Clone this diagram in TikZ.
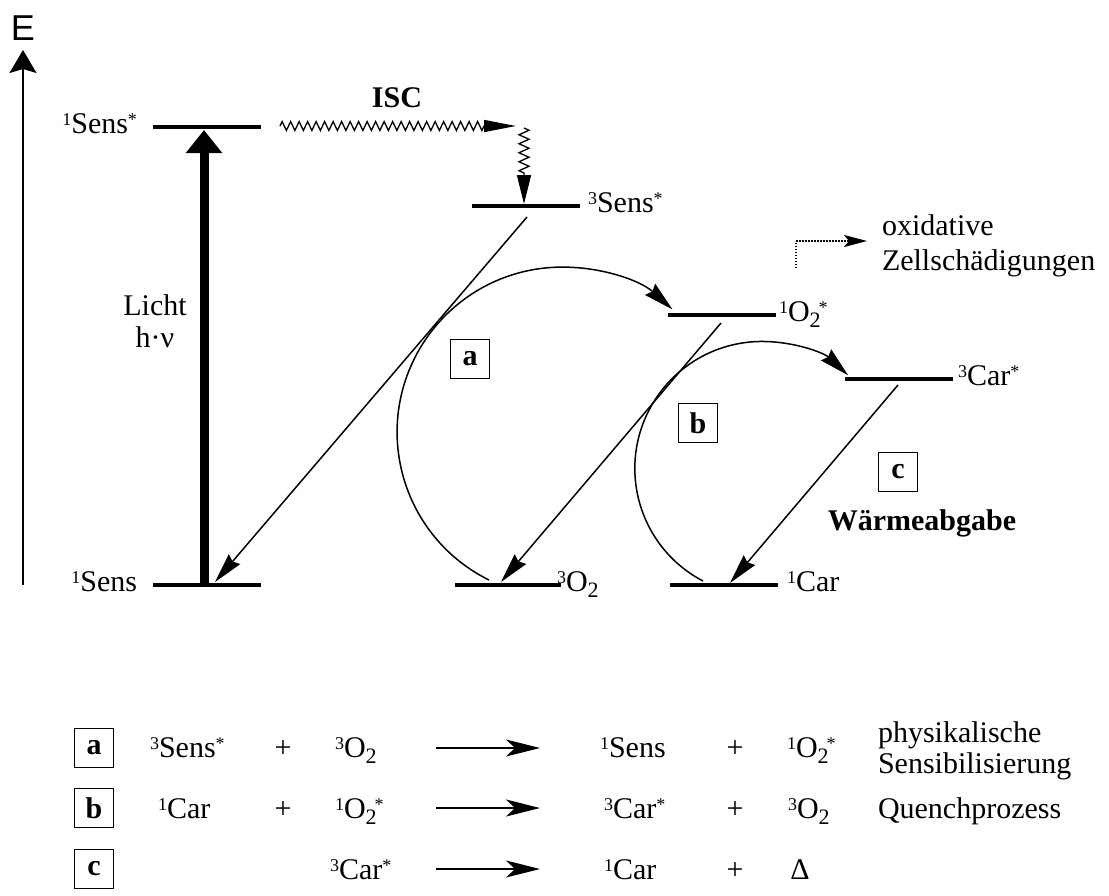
\documentclass[tikz,border=0pt]{standalone}
\usepackage{fontspec}
\setmainfont{Liberation Serif}
\newfontfamily\sansE{Liberation Sans}
\usetikzlibrary{arrows.meta,decorations.pathmorphing}
\newcommand\hsup[1]{\raisebox{8pt}{\fontsize{18}{18}\selectfont #1}}
\newcommand\hsub[1]{\raisebox{-6pt}{\fontsize{22}{22}\selectfont #1}}
\begin{document}
\begin{tikzpicture}[x=1pt,y=-1pt,
  every node/.style={inner sep=0pt, outer sep=0pt},
  tx/.style={font=\fontsize{30}{32}\selectfont},
  bd/.style={font=\fontsize{30}{32}\selectfont\bfseries},
  bx/.style={draw, line width=1.5pt, minimum width=39pt, minimum height=39pt, font=\fontsize{30}{32}\selectfont\bfseries},
  lvl/.style={line width=4pt},
  tr/.style={line width=1.5pt, -{Stealth[length=30pt,width=15pt,inset=3pt]}},
  eqarr/.style={line width=1.5pt, -{Stealth[length=34pt,width=17pt,inset=9pt]}},
  zz/.style={line width=1.3pt, decorate, decoration={zigzag, segment length=8.5pt, amplitude=4.5pt, post length=32pt}},
]
\useasboundingbox (0,0) rectangle (1109,895);

% energy axis
\node[font=\sansE\fontsize{36}{38}\selectfont] (E) at (23,28.5) {E};
\coordinate (axB) at (23,585);
\coordinate (axT) at (23,50);
\draw[line width=1.3pt, -{Stealth[length=23pt,width=27pt,inset=4pt]}] (axB) -- (axT);

% levels
\coordinate (S1sL) at (153,127); \coordinate (S1sR) at (261,127);
\coordinate (S3sL) at (472,206); \coordinate (S3sR) at (580,206);
\coordinate (O1sL) at (668,315); \coordinate (O1sR) at (776,315);
\coordinate (C3sL) at (845,379); \coordinate (C3sR) at (953,379);
\coordinate (S1L) at (153,585); \coordinate (S1R) at (261,585);
\coordinate (O3L) at (455,585); \coordinate (O3R) at (561,585);
\coordinate (C1L) at (670,585); \coordinate (C1R) at (778,585);
\foreach \a/\b in {S1sL/S1sR,S3sL/S3sR,O1sL/O1sR,C3sL/C3sR,S1L/S1R,O3L/O3R,C1L/C1R}
  \draw[lvl] (\a) -- (\b);

% level labels
\node[tx, anchor=base east] (lS1s) at (137,133) {\hsup{1}Sens\hsup{*}};
\node[tx, anchor=base west] (lS3s) at (588,212) {\hsup{3}Sens\hsup{*}};
\node[tx, anchor=base west] (lO1s) at (779,321) {\hsup{1}O\hsub{2}\kern-2pt\hsup{*}};
\node[tx, anchor=base west] (lC3s) at (958,385) {\hsup{3}Car\hsup{*}};
\node[tx, anchor=base east] (lS1) at (137,591) {\hsup{1}Sens};
\node[tx, anchor=base west] (lO3) at (557,591) {\hsup{3}O\hsub{2}};
\node[tx, anchor=base west] (lC1) at (787,591) {\hsup{1}Car};

% light absorption
\coordinate (hvB) at (204,585);
\coordinate (hvT) at (204,130);
\draw[line width=9pt, -{Triangle[length=23pt,width=35pt]}] (hvB) -- (hvT);
\node[tx, anchor=base] (licht) at (155,315) {Licht};
\node[tx, anchor=base] (hnu) at (155,347) {h·ν};

% ISC
\coordinate (isc1) at (280,126);
\coordinate (isc2) at (516,126);
\coordinate (isc3) at (524,128);
\coordinate (isc4) at (524,204);
\draw[zz, -{Triangle[length=32pt,width=12pt]}] (isc1) -- (isc2);
\draw[zz, decoration={amplitude=5pt, segment length=9pt, post length=29pt}, -{Triangle[length=29pt,width=14pt]}] (isc3) -- (isc4);
\node[bd, anchor=base] (isc) at (397,107) {ISC};

% diagonal relaxations
\coordinate (d1a) at (527,217); \coordinate (d1b) at (215,582);
\coordinate (d2a) at (721,323); \coordinate (d2b) at (501,582);
\coordinate (d3a) at (898,385); \coordinate (d3b) at (730,583);
\draw[tr] (d1a) -- (d1b);
\draw[tr] (d2a) -- (d2b);
\draw[tr] (d3a) -- (d3b);

% energy transfer arcs
\coordinate (aS) at (489,580);
\coordinate (bS) at (703,581);
\draw[tr] (aS) arc[start angle=116.3, end angle=312, radius=165];
\draw[tr] (bS) arc[start angle=117.6, end angle=312.8, radius=127];

% boxes
\node[bx] (ba) at (470,359) {a};
\node[bx] (bb) at (698,423) {b};
\node[bx] (bc) at (898,472) {c};
\node[bd, anchor=base] (warm) at (922,530) {Wärmeabgabe};

% oxidative damage
\coordinate (ox1) at (796,268);
\coordinate (ox2) at (796,241);
\coordinate (ox3) at (867,241);
\draw[line width=2pt, dash pattern=on 1.5pt off 1.5pt, -{Stealth[length=23pt,width=12pt,inset=5pt]}] (ox1) -- (ox2) -- (ox3);
\node[tx, anchor=base west] (ox) at (882,235) {oxidative};
\node[tx, anchor=base west] (zell) at (882,270) {Zellschädigungen};

% reaction equations
\node[bx] (ea) at (94,748) {a};
\node[bx] (eb) at (94,808) {b};
\node[bx] (ec) at (94,869) {c};

\node[tx, anchor=base west] (a1) at (150,757) {\hsup{3}Sens\hsup{*}};
\node[tx, anchor=base] (a2) at (283,757) {+};
\node[tx, anchor=base west] (a3) at (335,757) {\hsup{3}O\hsub{2}};
\coordinate (aa1) at (436,748); \coordinate (aa2) at (540,748);
\draw[eqarr] (aa1) -- (aa2);
\node[tx, anchor=base west] (a4) at (600,757) {\hsup{1}Sens};
\node[tx, anchor=base] (a5) at (735,757) {+};
\node[tx, anchor=base west] (a6) at (787,757) {\hsup{1}O\hsub{2}\kern-2pt\hsup{*}};
\node[tx, anchor=base west] (a7) at (878,742) {physikalische};
\node[tx, anchor=base west] (a8) at (878,773) {Sensibilisierung};

\node[tx, anchor=base west] (b1) at (158,818) {\hsup{1}Car};
\node[tx, anchor=base] (b2) at (283,818) {+};
\node[tx, anchor=base west] (b3) at (335,818) {\hsup{1}O\hsub{2}\kern-2pt\hsup{*}};
\coordinate (bb1) at (436,808); \coordinate (bb2) at (540,808);
\draw[eqarr] (bb1) -- (bb2);
\node[tx, anchor=base west] (b4) at (604,818) {\hsup{3}Car\hsup{*}};
\node[tx, anchor=base] (b5) at (735,818) {+};
\node[tx, anchor=base west] (b6) at (788,818) {\hsup{3}O\hsub{2}};
\node[tx, anchor=base west] (b7) at (878,818) {Quenchprozess};

\node[tx, anchor=base west] (c1) at (330,879) {\hsup{3}Car\hsup{*}};
\coordinate (cc1) at (436,869); \coordinate (cc2) at (540,869);
\draw[eqarr] (cc1) -- (cc2);
\node[tx, anchor=base west] (c2) at (604,879) {\hsup{1}Car};
\node[tx, anchor=base] (c3) at (735,879) {+};
\node[tx, anchor=base] (c4) at (800,879) {Δ};
\end{tikzpicture}
\end{document}
